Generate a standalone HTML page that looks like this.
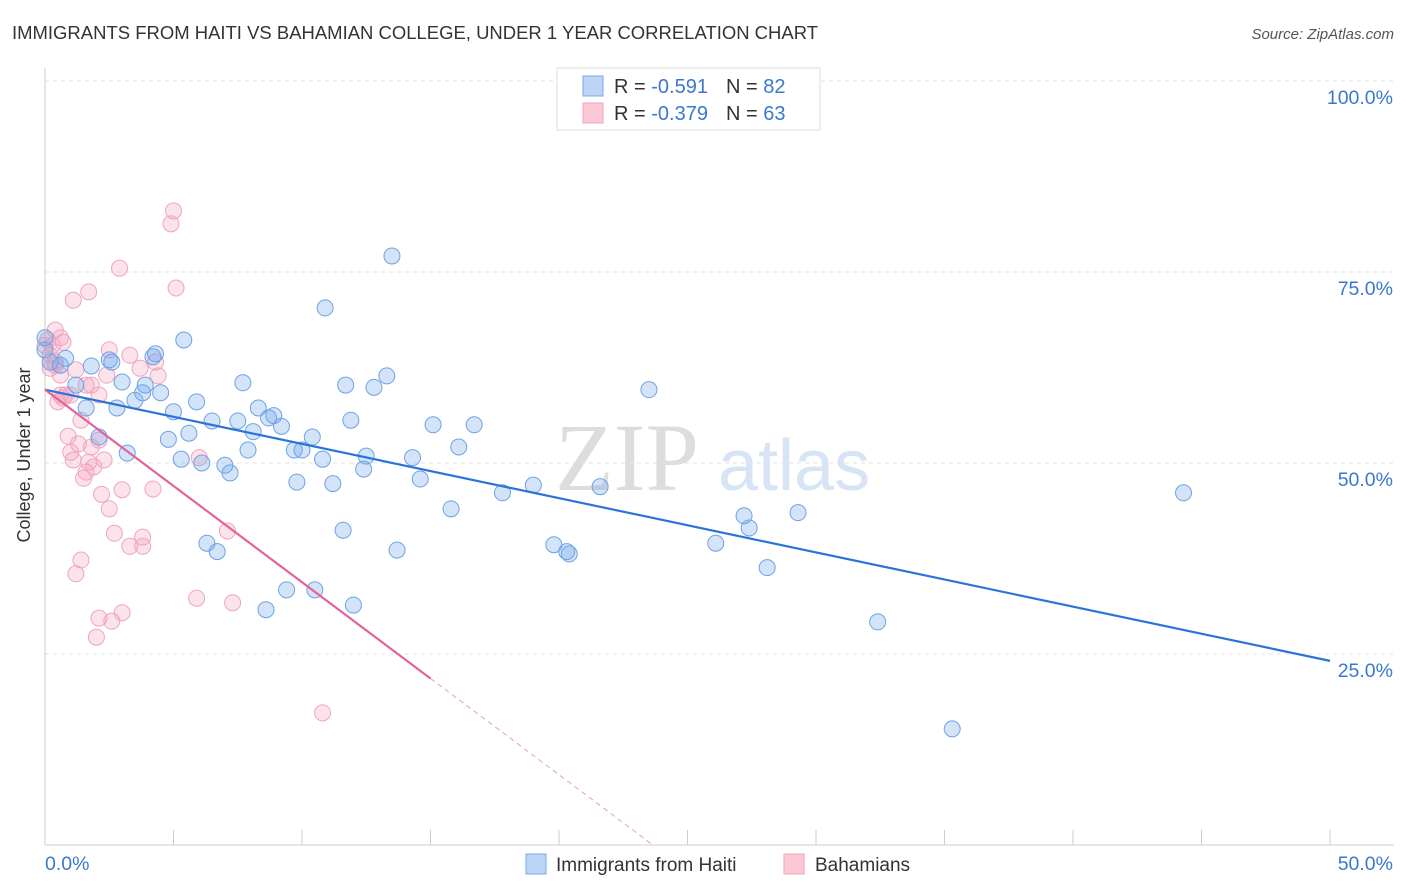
<!DOCTYPE html>
<html><head><meta charset="utf-8"><style>
body{margin:0;background:#fff;font-family:"Liberation Sans",sans-serif;}
svg{display:block}
</style></head><body>
<svg id="c" width="1406" height="892">
<text x="12" y="39" font-size="18" fill="#333" textLength="806" lengthAdjust="spacingAndGlyphs">IMMIGRANTS FROM HAITI VS BAHAMIAN COLLEGE, UNDER 1 YEAR CORRELATION CHART</text>
<text x="1394" y="39" font-size="15" fill="#555" font-style="italic" text-anchor="end">Source: ZipAtlas.com</text>
<g><text x="555" y="490" font-size="96" font-family="Liberation Serif,serif" fill="#ddd">ZIP</text><text x="718" y="490" font-size="72" fill="#d6e4f5">atlas</text></g>
<g id="grid"></g>
<g id="pts"></g>
<g id="lines"></g>
<text x="30" y="455" font-size="18" fill="#333" text-anchor="middle" transform="rotate(-90 30 455)">College, Under 1 year</text>
<g>
<rect x="557" y="68" width="263" height="62" fill="#fff" stroke="#ddd"/>
<rect x="583" y="76" width="20" height="20" fill="#bcd5f5" stroke="#7aaae8"/>
<rect x="583" y="103" width="20" height="20" fill="#fbc8d6" stroke="#eea6bd"/>
<text x="614" y="93" font-size="20" fill="#333">R = <tspan fill="#3a78d0"> -0.591</tspan><tspan dx="18">N = </tspan><tspan fill="#3a78d0">82</tspan></text>
<text x="614" y="120" font-size="20" fill="#333">R = <tspan fill="#3a78d0">-0.379</tspan><tspan dx="18">N = </tspan><tspan fill="#3a78d0">63</tspan></text>
</g>
<g>
<rect x="526" y="854" width="20" height="20" fill="#bcd5f5" stroke="#7aaae8"/>
<text x="556" y="871" font-size="19" fill="#333">Immigrants from Haiti</text>
<rect x="784" y="854" width="20" height="20" fill="#fbc8d6" stroke="#eea6bd"/>
<text x="815" y="871" font-size="19" fill="#333">Bahamians</text>
</g>
</svg>
<script>
const yTicks=[25,50,75,100];
const yTickLabels=["25.0%","50.0%","75.0%","100.0%"];
const xTicks=[0,5,10,15,20,25,30,35,40,45,50];
const blueX=[0,0.2,0.8,0.6,1.2,1.6,1.8,2.1,2.5,2.6,2.8,3.0,3.2,3.5,3.8,3.9,4.2,4.3,4.5,4.8,5.0,5.3,5.4,5.6,5.9,6.1,6.5,6.7,6.3,7.0,7.2,7.5,7.7,7.9,8.1,8.3,8.6,8.7,8.9,9.2,9.4,9.7,9.8,10.0,10.4,10.5,10.8,10.9,11.2,11.6,11.7,11.9,12.0,12.4,12.5,12.8,13.3,13.5,13.7,14.3,14.6,15.1,15.8,16.1,16.7,17.8,19.0,19.8,20.3,20.4,21.6,23.5,26.1,27.2,27.4,28.1,29.3,32.4,35.3,44.3,0];
const blueY=[66.4,63.2,63.7,62.8,60.2,57.2,62.7,53.4,63.5,63.2,57.2,60.6,51.3,58.2,59.2,60.2,63.9,64.3,59.2,53.1,56.7,50.5,66.1,53.9,58.0,50.0,55.5,38.4,39.5,49.7,48.7,55.5,60.5,51.7,54.1,57.2,30.8,55.9,56.2,54.8,33.4,51.7,47.5,51.7,53.4,33.4,50.5,70.3,47.3,41.2,60.2,55.6,31.4,49.2,50.9,59.9,61.4,77.1,38.6,50.7,47.9,55.0,44.0,52.1,55.0,46.1,47.1,39.3,38.4,38.1,46.9,59.6,39.5,43.1,41.5,36.3,43.5,29.2,15.2,46.1,64.8];
const pinkX=[0.1,0.3,0.4,0.5,0.6,0.7,0.8,0.9,1.0,1.1,1.1,1.2,1.2,1.3,1.4,1.4,1.5,1.6,1.7,1.8,1.8,1.9,2.0,2.1,2.1,2.2,2.3,2.4,2.5,2.6,2.7,2.9,3.0,3.0,3.3,3.7,3.8,3.8,4.2,4.3,4.4,4.9,5.0,5.1,5.9,6.0,7.1,7.3,10.8,0.2,0.4,0.6,1.6,0,3.3,0.4,0.7,1.0,2.1,1.7,2.5,0.6,0.2];
const pinkY=[66.1,65.4,62.8,58.0,66.4,58.5,58.9,53.5,51.4,50.4,71.3,35.5,62.2,52.5,55.6,37.3,48.0,48.8,72.4,52.1,60.2,49.5,27.2,58.9,29.7,45.9,50.4,61.5,44.0,29.3,40.8,75.5,46.5,30.4,39.1,62.4,40.3,39.1,46.6,63.2,61.4,81.3,83.0,72.9,32.3,50.7,41.1,31.7,17.3,62.4,63.2,58.9,60.2,65.4,64.1,67.4,65.8,58.9,53.0,50.1,64.8,61.5,64.1];
const blueFit=[59.6,24.1];
const pinkFit=[59.6,-2.52];
const NS="http://www.w3.org/2000/svg";
const X=v=>45+v*25.7, Y=v=>845-v*7.64;
function mk(t,a,p){const e=document.createElementNS(NS,t);for(const k in a)e.setAttribute(k,a[k]);p.appendChild(e);return e;}
const g=document.getElementById('grid');
yTicks.forEach((t,i)=>{
 const l=mk('line',{x1:45,x2:1394,y1:Y(t),y2:Y(t),stroke:'#e2e2e2','stroke-dasharray':'4,4'},g);
 
 
 const tx=mk('text',{x:1393,y:Y(t)+23,'font-size':19.5,fill:'#3a78d0','text-anchor':'end'},g);
 tx.textContent=yTickLabels[i];
 
 
});
const ax=mk('line',{x1:45,x2:1394,y1:845,y2:845,stroke:'#ccc'},g);


const ay=mk('line',{x1:45,x2:45,y1:68,y2:845,stroke:'#ccc'},g);


xTicks.forEach(t=>{const l=mk('line',{x1:X(t),x2:X(t),y1:830,y2:845,stroke:'#ccc'},g);
 
 });
[[0,"0.0%","start",45],[50,"50.0%","end",1393]].forEach(d=>{const t=mk('text',{x:d[3],y:870,'font-size':19.5,fill:'#3a78d0','text-anchor':d[2]},g);t.textContent=d[1];
 
 });
const p=document.getElementById('pts');
pinkX.forEach((x,i)=>{const c=mk('circle',{cx:X(x),cy:Y(pinkY[i]),r:8,fill:'rgba(245,160,190,0.3)',stroke:'#eea6bd','stroke-width':1},p);
 
 });
blueX.forEach((x,i)=>{const c=mk('circle',{cx:X(x),cy:Y(blueY[i]),r:8,fill:'rgba(110,165,235,0.3)',stroke:'#6fa2e3','stroke-width':1},p);
 
 });
const L=document.getElementById('lines');
const b=mk('line',{x1:X(0),y1:Y(blueFit[0]),x2:X(50),y2:Y(blueFit[1]),stroke:'#2a74d8','stroke-width':2.2},L);


const pf=x=>pinkFit[0]+pinkFit[1]*x;
const pl=mk('line',{x1:X(0),y1:Y(pf(0)),x2:X(15),y2:Y(pf(15)),stroke:'#e0649a','stroke-width':2.2},L);


const x0=-pinkFit[0]/pinkFit[1];
const pd=mk('line',{x1:X(15),y1:Y(pf(15)),x2:X(x0),y2:Y(0),stroke:'#e0a0b8','stroke-width':1,'stroke-dasharray':'5,4'},L);


</script>
</body></html>
